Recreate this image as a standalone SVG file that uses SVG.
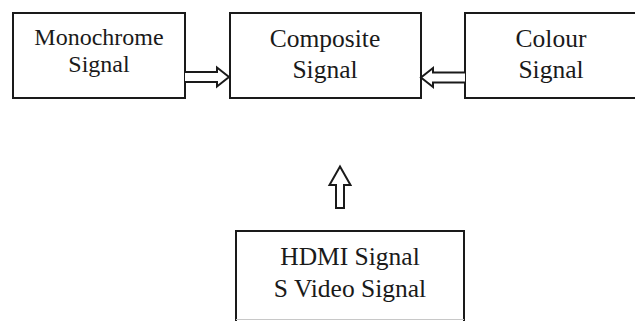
<svg xmlns="http://www.w3.org/2000/svg" width="635" height="321" viewBox="0 0 635 321">
<style>
.box{fill:#fff;stroke:#1a1a1a;stroke-width:2}
.t{font-family:"Liberation Serif","Times New Roman",serif;fill:#1a1a1a;text-anchor:middle}
.arr{fill:#fff;stroke:#1a1a1a;stroke-width:2;stroke-linejoin:miter}
</style>
<rect width="635" height="321" fill="#fff"/>
<g id="monochrome">
<rect class="box" x="13" y="13" width="172" height="85"/>
<text class="t" x="99" y="45" font-size="24">Monochrome</text>
<text class="t" x="99" y="72" font-size="24">Signal</text>
</g>
<g id="composite">
<rect class="box" x="230" y="13" width="191" height="85"/>
<text class="t" x="325" y="47" font-size="25.5">Composite</text>
<text class="t" x="325" y="78" font-size="25.5">Signal</text>
</g>
<g id="colour">
<rect class="box" x="465" y="13" width="173" height="85"/>
<text class="t" x="551" y="47" font-size="25.5">Colour</text>
<text class="t" x="551" y="78" font-size="25.5">Signal</text>
</g>
<g id="hdmi">
<path d="M236,321 V231 H464 V321" fill="#fff" stroke="#1a1a1a" stroke-width="2"/>
<line x1="236" y1="319.5" x2="464" y2="319.5" stroke="#c8c8c8" stroke-width="1"/>
<text class="t" x="350" y="265" font-size="25.5">HDMI Signal</text>
<text class="t" x="350" y="297" font-size="25.5">S Video Signal</text>
</g>
<g id="connectors">
<path class="arr" d="M185,72 H217 V67.5 L229,77 L217,86.5 V82 H185"/>
<path class="arr" d="M465,72.5 H433 V68 L421,77.5 L433,87 V82.5 H465"/>
<path class="arr" d="M336,208 V185 H329.5 L340,166.5 L350.5,185 H344 V208 Z"/>
</g>
</svg>
